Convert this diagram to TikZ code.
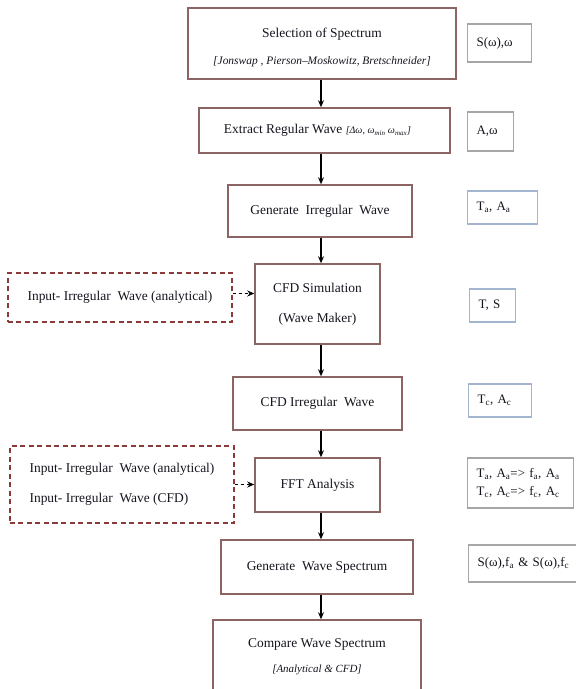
\documentclass[tikz,border=0pt]{standalone}
\usepackage{fontspec}
\setmainfont{Liberation Serif}
\usetikzlibrary{arrows.meta}
\definecolor{boxc}{HTML}{8C6464}
\definecolor{dashc}{HTML}{8B3A3A}
\definecolor{grayc}{HTML}{A6A6A6}
\definecolor{bluec}{HTML}{A3B5CF}
\definecolor{txt}{HTML}{14141E}
\begin{document}
\begin{tikzpicture}[x=1bp,y=-1bp,
  mainbox/.style={draw=boxc, line width=1.5bp, inner sep=0pt, align=center,
    font=\fontsize{13.5}{16}\selectfont, text=txt},
  sidebox/.style={draw=#1, line width=1.2bp, inner xsep=9bp, inner ysep=0pt, align=left,
    font=\fontsize{13}{18}\selectfont, anchor=west, text=txt},
  dashbox/.style={draw=dashc, line width=1.4bp, dash pattern=on 5bp off 3.5bp, inner sep=0pt,
    font=\fontsize{13.5}{30}\selectfont, text=txt},
  arr/.style={-{Stealth[length=7bp,width=6bp]}, line width=1.2bp},
  darr/.style={arr, dash pattern=on 3.5bp off 2.5bp}]
\useasboundingbox (0,0) rectangle (576,689);
\coordinate (ax) at (321,0);
% main boxes
\node[mainbox, minimum width=268bp, minimum height=71bp] (b1) at (322,43.5)
  {\rule{0pt}{17bp}Selection of Spectrum\\[11bp]{\fontsize{11.5}{13}\selectfont\itshape [Jonswap , Pierson–Moskowitz, Bretschneider]}};
\node[mainbox, minimum width=251bp, minimum height=45bp] (b2) at (324.5,130.5)
  {Extract Regular Wave {\fontsize{10}{12}\selectfont\itshape [Δω, ω\textsubscript{min} ω\textsubscript{max}]}\hspace{14bp}};
\node[mainbox, minimum width=184bp, minimum height=52bp] (b3) at (320,211)
  {Generate~ Irregular~ Wave};
\node[mainbox, minimum width=125bp, minimum height=80bp, font=\fontsize{13.5}{30}\selectfont] (b4) at (317.5,304)
  {CFD Simulation\\(Wave Maker)};
\node[mainbox, minimum width=169bp, minimum height=53bp] (b5) at (317.5,403.5)
  {CFD Irregular~ Wave};
\node[mainbox, minimum width=125bp, minimum height=54bp] (b6) at (317.5,485)
  {FFT Analysis};
\node[mainbox, minimum width=192bp, minimum height=54bp] (b7) at (317,567)
  {Generate~ Wave Spectrum};
\node[mainbox, minimum width=208bp, minimum height=74bp] (b8) at (317,657)
  {Compare Wave Spectrum\\[9bp]{\fontsize{11}{13}\selectfont\itshape [Analytical \& CFD]}};
% side boxes
\node[sidebox=grayc, text width=46bp, minimum height=38bp] (s1) at (467,43) {S(ω),ω};
\node[sidebox=grayc, text width=28bp, minimum height=39bp] (s2) at (467,131.5) {A,ω};
\node[sidebox=bluec, text width=52bp, minimum height=33bp] (s3) at (467,207.5) {T\textsubscript{a}, A\textsubscript{a}};
\node[sidebox=bluec, text width=28bp, minimum height=33bp] (s4) at (469,305.5) {T, S};
\node[sidebox=bluec, text width=45bp, minimum height=33bp] (s5) at (468,400.5) {T\textsubscript{c}, A\textsubscript{c}};
\node[sidebox=grayc, text width=88bp, minimum height=50bp] (s6) at (467,483)
  {T\textsubscript{a}, A\textsubscript{a}=> f\textsubscript{a}, A\textsubscript{a}\\T\textsubscript{c}, A\textsubscript{c}=> f\textsubscript{c}, A\textsubscript{c}};
\node[sidebox=grayc, text width=92bp, minimum height=37bp] (s7) at (468,563.5)
  {S(ω),f\textsubscript{a} \& S(ω),f\textsubscript{c}};
% dashed input boxes
\node[dashbox, minimum width=224bp, minimum height=49bp] (d1) at (120,297.5)
  {Input- Irregular~ Wave (analytical)};
\node[dashbox, minimum width=224bp, minimum height=77bp, align=left] (d2) at (122,484.5)
  {Input- Irregular~ Wave (analytical)\\Input- Irregular~ Wave (CFD)};
% connectors
\draw[arr] (b1.south -| ax) -- (b2.north -| ax);
\draw[arr] (b2.south -| ax) -- (b3.north -| ax);
\draw[arr] (b3.south -| ax) -- (b4.north -| ax);
\draw[arr] (b4.south -| ax) -- (b5.north -| ax);
\draw[arr] (b5.south -| ax) -- (b6.north -| ax);
\draw[arr] (b6.south -| ax) -- (b7.north -| ax);
\draw[arr] (b7.south -| ax) -- (b8.north -| ax);
\draw[darr] ([yshift=4bp]d1.east) -- ([yshift=4bp]d1.east -| b4.west);
\draw[darr] (d2.east) -- (d2.east -| b6.west);
\end{tikzpicture}
\end{document}
